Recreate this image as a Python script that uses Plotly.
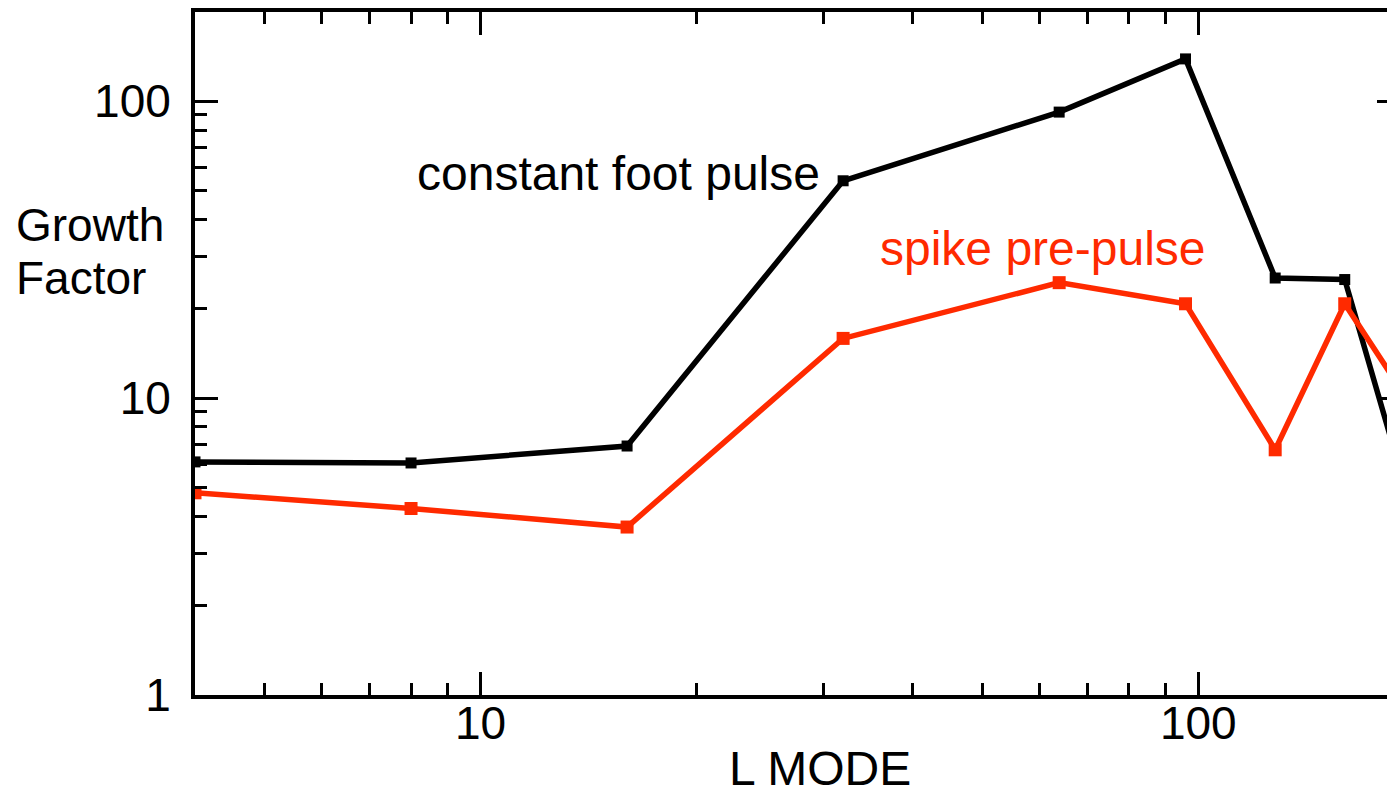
import plotly.graph_objects as go

# Data (log-log)
l_mode = [4, 8, 16, 32, 64, 96, 128, 160, 192]
constant_foot = [6.1, 6.05, 6.9, 54, 92, 139, 25.4, 25.1, 5.5]
spike_prepulse = [4.8, 4.25, 3.68, 15.9, 24.5, 20.8, 6.7, 20.8, 10.6]

x_ticks = [10, 100]
y_ticks = [1, 10, 100]

RED = "#FF2A00"
FONT = "Liberation Sans"

W, H = 1387, 798
L, R, T, B = 195, 1387, 12, 695


def px(x):
    return (x - L) / (R - L)


def py(y):
    return (B - y) / (B - T)


fig = go.Figure()
fig.add_trace(go.Scatter(
    x=l_mode, y=constant_foot, mode="lines+markers",
    line=dict(color="black", width=5.5),
    marker=dict(symbol="square", size=11, color="black"),
    showlegend=False,
))
fig.add_trace(go.Scatter(
    x=l_mode, y=spike_prepulse, mode="lines+markers",
    line=dict(color=RED, width=5.5),
    marker=dict(symbol="square", size=13, color=RED),
    showlegend=False,
))
# invisible copy on the right-hand axis so that its tick stubs are drawn
fig.add_trace(go.Scatter(
    x=l_mode, y=spike_prepulse, yaxis="y2", mode="lines",
    line=dict(color="rgba(0,0,0,0)", width=0), hoverinfo="skip",
    showlegend=False,
))

tick_font = dict(family=FONT, size=46, color="black")
minor = dict(ticks="inside", ticklen=12, tickwidth=3, tickcolor="black",
             dtick="D1", showgrid=False)

fig.update_xaxes(
    type="log", range=[0.60206, 2.2630], tickmode="array",
    tickvals=x_ticks, ticktext=[str(v) for v in x_ticks],
    showgrid=False, zeroline=False,
    showline=True, linecolor="black", linewidth=4, mirror="ticks",
    ticks="inside", ticklen=23, tickwidth=3, tickcolor="black",
    tickfont=tick_font, minor=minor, ticklabelstandoff=-15,
)
fig.update_layout(
    yaxis=dict(
        type="log", range=[0, 2.30103], tickmode="array",
        tickvals=y_ticks, ticktext=[str(v) for v in y_ticks],
        showgrid=False, zeroline=False,
        showline=True, linecolor="black", linewidth=4, mirror=False,
        ticks="inside", ticklen=23, tickwidth=3, tickcolor="black",
        tickfont=tick_font, minor=minor, ticklabelstandoff=11,
    ),
    yaxis2=dict(
        type="log", range=[0, 2.30103], overlaying="y", side="right",
        anchor="x", tickmode="array", tickvals=y_ticks,
        showticklabels=False, showgrid=False, zeroline=False,
        showline=False, ticks="inside", ticklen=10, tickwidth=3,
        tickcolor="black",
    ),
)

ann_font = dict(family=FONT, size=48, color="black")
side_font = dict(family=FONT, size=46, color="black")
fig.add_annotation(text="constant foot pulse", xref="paper", yref="paper",
                   x=px(415), y=py(173), xanchor="left", yanchor="middle",
                   showarrow=False, font=ann_font)
fig.add_annotation(text="spike pre-pulse", xref="paper", yref="paper",
                   x=px(878), y=py(248), xanchor="left", yanchor="middle",
                   showarrow=False, font=dict(family=FONT, size=48, color=RED))
fig.add_annotation(text="Growth", xref="paper", yref="paper",
                   x=px(14), y=py(225), xanchor="left", yanchor="middle",
                   showarrow=False, font=side_font)
fig.add_annotation(text="Factor", xref="paper", yref="paper",
                   x=px(14), y=py(278), xanchor="left", yanchor="middle",
                   showarrow=False, font=side_font)
fig.add_annotation(text="L MODE", xref="paper", yref="paper",
                   x=px(727), y=py(797), xanchor="left", yanchor="bottom",
                   showarrow=False, font=ann_font)

fig.update_layout(
    width=W, height=H, autosize=False,
    margin=dict(l=L, r=W - R, t=T, b=H - B, pad=0),
    paper_bgcolor="white", plot_bgcolor="white",
)

fig.write_html(
    "out.html",
    config={"displayModeBar": False},
    post_script="document.documentElement.style.overflow='hidden';"
                "document.body.style.overflow='hidden';"
                "document.body.style.margin='0';",
)
